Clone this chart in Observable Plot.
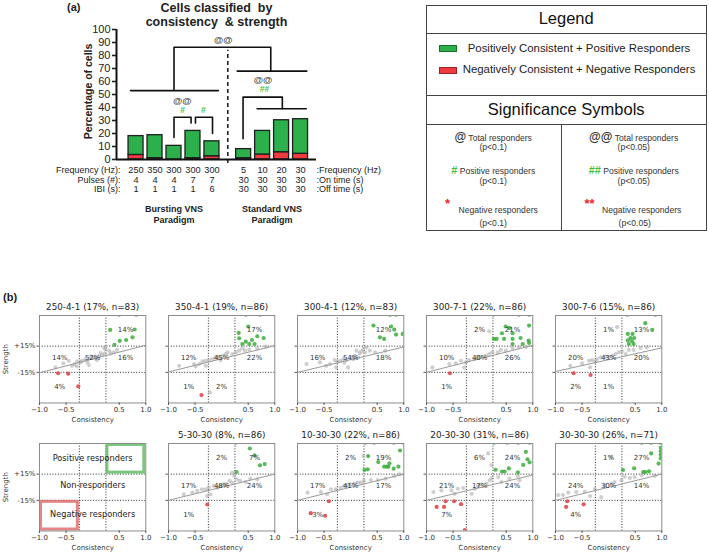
<!DOCTYPE html>
<html><head><meta charset="utf-8">
<script src="https://cdn.jsdelivr.net/npm/d3@7"></script>
<script src="https://cdn.jsdelivr.net/npm/@observablehq/plot@0.6"></script>
<style>
body{margin:0;background:#fff;}
#root{position:relative;width:709px;height:552px;overflow:hidden;background:#fff;font-family:"Liberation Sans",Arial,sans-serif;color:#222;}
#root svg{position:absolute;}
.t{position:absolute;white-space:nowrap;}
</style></head><body><div id="root"></div>
<script>
// ---------------- Panel (a) data ----------------
const freq      = ["250","350","300","300","300","5","10","20","30"];
const pulsesOn  = ["4","4","4","7","7","30","30","30","30"];
const ibiOff    = ["1","1","1","1","6","30","30","30","30"];
const paradigm  = ["Bursting","Bursting","Bursting","Bursting","Bursting","Standard","Standard","Standard","Standard"];
const totalPct  = [18, 18.7, 10.5, 22, 14, 8, 22, 30.2, 31];
const negPct    = [3.5, 1, 0, 1, 2.5, 1, 3.8, 5.6, 4.4];
const leftRowLabels  = ["Frequency (Hz):", "Pulses (#):", "IBI (s):"];
const rightRowLabels = [":Frequency (Hz)", ":On time (s)", ":Off time (s)"];
const groupLabels = {Bursting: "Bursting VNS\nParadigm", Standard: "Standard VNS\nParadigm"};
const yTicksA = d3.range(0, 101, 10);
// significance brackets in (bar position, percent) units
const bracketIds  = ["bursting","between","standard","b3vs4","b4vs5","s5vsRest","sRest"];
const bracketPts  = [
  [[-0.29,53],[4.34,53]],
  [[2,53],[2,86.4],[7.1,86.4],[7.1,68]],
  [[5.33,68],[9.0,68]],
  [[2,17],[2,32.5],[2.9,32.5],[2.9,28]],
  [[3.13,28],[3.13,32.5],[4.03,32.5],[4.03,20]],
  [[5.64,16],[5.64,48],[7.71,48],[7.71,39]],
  [[6.38,39],[8.97,39]]
];
const sigText = ["@@","@@","#","#","@@","##"];
const sigKind = ["total","total","pos","pos","total","pos"];
const sigPos  = [[4.6,92],[2.43,45],[2.45,38],[3.55,38],[6.69,61],[6.77,54]];

// ---------------- Legend data ----------------
const legendLabels = ["Positively Consistent + Positive Responders","Negatively Consistent + Negative Responders"];
const sigNames = ["Total responders","Positive responders","Negative responders"];
const sigSymLeft = ["@","#","*"], sigSymRight = ["@@","##","**"];
const pLeft = "(p<0.1)", pRight = "(p<0.05)";

// ---------------- Panel (b) data ----------------
const panelTitles = ["250-4-1 (17%, n=83)","350-4-1 (19%, n=86)","300-4-1 (12%, n=83)","300-7-1 (22%, n=86)","300-7-6 (15%, n=86)",
                     "5-30-30 (8%, n=86)","10-30-30 (22%, n=86)","20-30-30 (31%, n=86)","30-30-30 (26%, n=71)"];
const s250_4_1 = [[0.50,51],[0.82,51],[0.33,33.5],[0.79,34],[0.75,25],[0.63,22],[0.51,21],[0.41,16.5],
  [-0.65,-16],[-0.46,-16.5],[-0.27,-31],
  [-0.70,-9.4],[-0.55,-4.8],[-0.45,-1.7],[-0.39,-7.5],[-0.34,-5.5],[-0.30,-8],[-0.29,-2.5],[-0.23,-3.6],[-0.20,-1.7],[-0.14,0.2],[-0.10,-3],[-0.07,-6.7],[-0.04,2.1],[0.02,2.9],[0.05,1.0],[0.08,-1],[0.12,3.3],[0.15,7],[0.18,4.8],[0.22,13],[0.23,6.7],[0.24,11.7],[0.31,9.8],[0.34,6.7],[0.40,7.9],[0.46,10.6]];
const s350_4_1 = [[0.455,51],[0.72,51],[0.50,37.4],[0.32,30.1],[0.67,26.3],[0.79,24.3],[0.33,24.0],[0.57,22.0],[0.455,20.1],[0.39,17.4],[0.52,17.4],[0.62,17.4],
  [-0.38,-41],
  [-0.22,-38],
  [-0.80,-7.5],[-0.52,-5.5],[-0.49,-8.2],[-0.42,-5.5],[-0.36,-2.5],[-0.30,-1.7],[-0.30,-7.5],[-0.24,-0.9],[-0.17,0.2],[-0.11,2.1],[-0.06,2.1],[-0.02,-0.9],[0.02,4.0],[0.08,6.0],[0.11,7.9],[0.20,6.0],[0.27,7.9],[0.33,9.8],[0.39,12.5],[0.44,9.8],[0.52,10.9],[0.67,12.5],[0.83,14.4]];
const s300_4_1 = [[0.43,38.5],[0.74,51],[0.85,51],[0.76,37.4],[0.82,33.9],[0.855,28.2],[0.98,28.9],[0.55,25.1],[0.63,23.2],
  [-0.83,-5.5],[-0.58,-3.6],[-0.46,-7.5],[-0.39,-5.5],[-0.30,-0.9],[-0.27,-9.4],[-0.25,-3],[-0.20,-1.7],[-0.14,0.2],[-0.12,-4],[-0.08,-0.9],[-0.05,-9.4],[0.02,2.1],[0.05,0],[0.08,4.0],[0.11,9.8],[0.14,2.1],[0.17,6.7],[0.20,9],[0.24,11.7],[0.27,7.9],[0.30,13.6],[0.36,9.8],[0.46,7.9],[0.65,9.8]];
const s300_7_1 = [[0.26,51],[0.74,51],[0.93,51],[0.49,37.4],[0.56,35.8],[0.42,29.7],[0.62,29.7],[0.93,38.5],[0.27,23.2],[0.32,23.2],[0.46,23.2],[0.62,23.2],[0.77,24.3],[0.81,17.4],[0.92,21.3],[0.93,18.6],[0.62,17.4],
  [-0.56,-16],
  [0.18,32],
  [-0.89,-9.4],[-0.57,-5.5],[-0.45,-4.8],[-0.35,-1.7],[-0.29,-9.4],[-0.26,-3.6],[-0.20,-0.9],[-0.10,0.2],[-0.04,2.1],[0.02,2.9],[0.12,4.0],[0.18,6.0],[0.24,7.9],[0.34,7.9],[0.40,10.6],[0.49,9.8],[0.62,12.9],[0.74,13.6],[0.87,14]];
const s300_7_6 = [[0.35,51],[0.88,51],[0.69,41.2],[0.82,33.5],[0.36,28.9],[0.45,28.9],[0.41,24.3],[0.48,24.3],[0.36,21.5],[0.44,20.5],[0.38,17.4],[0.47,17.4],
  [-0.66,-16],[-0.34,-18],
  [0.16,36.6],
  [-0.72,-7.5],[-0.50,-4.8],[-0.37,-1.7],[-0.35,-9.4],[-0.31,-0.9],[-0.25,-2.5],[-0.22,0.2],[-0.15,2.1],[-0.06,2.9],[0.0,2.9],[0.07,4.0],[0.13,6.0],[0.19,7.9],[0.25,9.0],[0.32,6.0],[0.38,10.6],[0.47,10.6],[0.60,12.9],[0.72,13.6]];
const s5_30_30 = [[0.26,51],[0.53,44.3],[0.62,36.4],[0.72,25.0],[0.81,26.5],[0.28,17.4],
  [-0.27,-19.7],
  [0.20,16.6],
  [-0.71,-8],[-0.55,-6],[-0.46,-4.2],[-0.37,-2.3],[-0.30,-2.3],[-0.27,-9.9],[-0.24,-0.4],[-0.21,-8],[-0.15,1.5],[-0.08,-0.4],[-0.02,1.5],[0.04,3.4],[0.10,3.4],[0.15,7.2],[0.20,5],[0.24,12.9],[0.29,9.1],[0.35,7.2],[0.45,6.0],[0.54,9.8],[0.67,9.1]];
const s10_30_30 = [[0.27,51],[0.44,51],[0.81,51],[0.99,51],[0.93,42],[0.33,35.6],[0.52,28.8],[0.73,27.3],[0.26,19.7],[0.32,20.5],[0.63,23.5],[0.68,23.5],[0.71,23.5],[0.81,21.2],[0.90,23.5],
  [-0.75,-29.6],[-0.48,-32.6],[-0.41,-16],
  [0.24,35.6],
  [-0.81,-6.1],[-0.56,-5.3],[-0.44,-8],[-0.37,-2.3],[-0.28,-2.3],[-0.19,-0.4],[-0.12,1.5],[-0.06,2.3],[0.0,3.4],[0.07,4.1],[0.13,5.3],[0.19,5.3],[0.25,7.2],[0.38,8.3],[0.51,8.3],[0.66,9.8],[0.82,12.9],[0.92,14.8]];
const s20_30_30 = [[0.27,51],[0.52,51],[0.72,51],[0.94,51],[0.87,40.5],[0.90,32],[0.94,28.5],[0.82,25.5],[0.55,21.5],[0.42,18],[0.47,18],[0.72,17],[0.30,20],
  [-0.64,-16],[-0.48,-16],[-0.81,-22.5],[-0.67,-22.5],[-0.35,-19.4],[-0.28,-49],
  [0.16,38.6],[0.22,25.3],[-0.87,-5.5],[-0.72,-3.6],[-0.53,-3.6],[-0.47,-7.5],[-0.41,-1.7],[-0.31,-0.9],[-0.15,-7.5],[-0.09,-1.7],[-0.03,2.1],[0.03,2.9],[0.13,4.0],[0.19,7.9],[0.23,10.6],[0.35,11.7],[0.41,6.0],[0.56,9.8],[0.72,12.9],[0.75,8.0]];
const s30_30_30 = [[0.98,51],[0.98,45],[0.98,41],[0.98,37],[0.98,33],[0.94,27],[0.80,38.6],[0.62,51],[0.80,51],[0.48,21.6],[0.65,17.4],[0.69,17.4],[0.76,18.2],[0.27,19.7],
  [-0.78,-16],[-0.80,-22.5],[-0.47,-19.5],
  [0.05,34.8],[-0.95,-9],[-0.86,-9],[-0.76,-6],[-0.61,-5.5],[-0.45,-5],[-0.35,-10],[-0.26,-2],[-0.14,-11.3],[-0.07,2],[0.05,4],[0.11,6],[0.24,8],[0.30,12],[0.40,10.6],[0.49,11.7],[0.62,13.6],[0.87,12.9]];
const panelPoints = [s250_4_1,s350_4_1,s300_4_1,s300_7_1,s300_7_6,s5_30_30,s10_30_30,s20_30_30,s30_30_30];
// quadrant percentage labels: code = row (T/M/B) + column (L/M/R)
const q250_4_1 = [["TR","14%"],["ML","14%"],["MM","52%"],["MR","16%"],["BL","4%"]];
const q350_4_1 = [["TR","17%"],["ML","12%"],["MM","45%"],["MR","22%"],["BL","1%"],["BM","2%"]];
const q300_4_1 = [["TR","12%"],["ML","16%"],["MM","54%"],["MR","18%"]];
const q300_7_1 = [["TM","2%"],["TR","21%"],["ML","10%"],["MM","40%"],["MR","26%"],["BL","1%"]];
const q300_7_6 = [["TM","1%"],["TR","13%"],["ML","20%"],["MM","43%"],["MR","20%"],["BL","2%"],["BM","1%"]];
const q5_30_30 = [["TM","2%"],["TR","7%"],["ML","17%"],["MM","48%"],["MR","24%"],["BL","1%"]];
const q10_30_30 = [["TM","2%"],["TR","19%"],["ML","17%"],["MM","41%"],["MR","17%"],["BL","3%"]];
const q20_30_30 = [["TM","6%"],["TR","24%"],["ML","21%"],["MM","17%"],["MR","24%"],["BL","7%"]];
const q30_30_30 = [["TM","1%"],["TR","27%"],["ML","24%"],["MM","30%"],["MR","14%"],["BL","4%"]];
const panelLabels = [q250_4_1,q350_4_1,q300_4_1,q300_7_1,q300_7_6,q5_30_30,q10_30_30,q20_30_30,q30_30_30];
// fitted trend line: strength at consistency -1 and +1
const fitLeft  = [-15.5,-14.5,-15,-15,-14,-15,-15,-15,-15];
const fitRight = [16, 15.5, 14, 16, 13, 15, 15, 14, 15];
const explainTexts = [["TM","Positive responders"],["MM","Non-responders"],["BM","Negative responders"]];
const xTicksS = [-1, -0.5, 0.5, 1];
const thresholdX = [-0.25, 0.25], thresholdY = [-15, 15];
const xDomainS = [-1, 1], yDomainS = [-50, 50];

// ---------------- helpers ----------------
const root = document.getElementById("root");
function put(node, left, top) { node.style.left = left + "px"; node.style.top = top + "px"; root.appendChild(node); return node; }
function div(text, css) { const d = document.createElement("div"); d.className = "t"; d.innerHTML = text; Object.assign(d.style, css); root.appendChild(d); return d; }

// ---------------- Panel (a) ----------------
const groupGap = 0.67;
const bars = freq.map((f, i) => ({p: i + (paradigm[i] === "Standard" ? groupGap : 0), f, on: pulsesOn[i], off: ibiOff[i], total: totalPct[i], neg: negPct[i], g: paradigm[i]}));
const xDomA = [-1.03, 9.51];
const divider = (bars[4].p + bars[5].p) / 2;
const groups = Object.keys(groupLabels).map(g => ({g, p: d3.mean(bars.filter(b => b.g === g), b => b.p), label: groupLabels[g]}));
const brackets = bracketPts.flatMap((pts, k) => pts.map(([p, v]) => ({id: bracketIds[k], p, v})));
const sigs = sigText.map((t, i) => ({t, kind: sigKind[i], p: sigPos[i][0], v: sigPos[i][1]}));
const hw = 0.395;
const rowDy = [11, 20.5, 29.5];
const chartA = Plot.plot({
  width: 360, height: 232, marginLeft: 116, marginRight: 44, marginTop: 29, marginBottom: 73,
  x: {domain: xDomA, axis: null}, y: {domain: [0, 100], axis: null},
  style: {fontFamily: "Liberation Sans, Arial, sans-serif", background: "transparent", overflow: "visible", color: "#222"},
  marks: [
    Plot.rect(bars.filter(d => d.neg > 0), {x1: d => d.p - hw, x2: d => d.p + hw, y1: () => 0, y2: "neg", fill: "#ee3b3f", stroke: "#1f1f1f", strokeWidth: 1.3}),
    Plot.rect(bars, {x1: d => d.p - hw, x2: d => d.p + hw, y1: "neg", y2: "total", fill: "#2bb04b", stroke: "#1f1f1f", strokeWidth: 1.3}),
    Plot.ruleX([divider], {y1: -3, y2: 84, stroke: "#222", strokeWidth: 1.6, strokeDasharray: "4,3"}),
    Plot.line(brackets, {x: "p", y: "v", z: "id", stroke: "#111", strokeWidth: 1.6}),
    Plot.text(sigs.filter(d => d.kind === "total"), {x: "p", y: "v", text: "t", fontSize: 9.5, fontWeight: "bold", fill: "#555"}),
    Plot.text(sigs.filter(d => d.kind === "pos"), {x: "p", y: "v", text: "t", fontSize: 8.5, fontWeight: "bold", fill: "#47c24f"}),
    Plot.axisY({ticks: yTicksA, tickSize: 4, tickPadding: 2, fontSize: 11, label: null, strokeWidth: 1.6}),
    Plot.ruleX([xDomA[0]], {strokeWidth: 2, stroke: "#111"}),
    Plot.ruleY([0], {strokeWidth: 2, stroke: "#111"}),
    Plot.text(["Percentage of cells"], {frameAnchor: "left", textAnchor: "middle", lineAnchor: "middle", dx: -28, dy: -3, rotate: -90, fontSize: 10.5, fontWeight: "bold"}),
    Plot.text(["Cells classified  by\nconsistency  & strength"], {frameAnchor: "top", lineAnchor: "top", dy: -27, fontSize: 12.5, fontWeight: "bold", lineHeight: 1.12}),
    Plot.text(bars, {x: "p", text: "f", frameAnchor: "bottom", lineAnchor: "middle", dy: rowDy[0], fontSize: 9.2}),
    Plot.text(bars, {x: "p", text: "on", frameAnchor: "bottom", lineAnchor: "middle", dy: rowDy[1], fontSize: 9.2}),
    Plot.text(bars, {x: "p", text: "off", frameAnchor: "bottom", lineAnchor: "middle", dy: rowDy[2], fontSize: 9.2}),
    ...leftRowLabels.map((t, i) => Plot.text([t], {frameAnchor: "bottom-left", textAnchor: "end", lineAnchor: "middle", dx: 4, dy: rowDy[i], fontSize: 9})),
    ...rightRowLabels.map((t, i) => Plot.text([t], {frameAnchor: "bottom-right", textAnchor: "start", lineAnchor: "middle", dy: rowDy[i], fontSize: 9})),
    Plot.text(groups, {x: "p", text: "label", frameAnchor: "bottom", lineAnchor: "top", dy: 45, fontSize: 9, fontWeight: "bold", lineHeight: 1.2})
  ]
});
put(chartA, 0, 0);
div("(a)", {left: "67px", top: "1px", fontWeight: "bold", fontSize: "11px"});
div("(b)", {left: "3px", top: "291px", fontWeight: "bold", fontSize: "11px"});

// ---------------- Legend box ----------------
const LB = {l: 425.7, t: 5, r: 706.7, b: 230.7};
const box = document.createElement("div");
Object.assign(box.style, {position: "absolute", left: LB.l + "px", top: LB.t + "px", width: (LB.r - LB.l) + "px", height: (LB.b - LB.t) + "px", border: "1px solid #444", boxSizing: "border-box"});
root.appendChild(box);
[33.3, 95, 124.3].forEach(y => div("", {left: LB.l + "px", top: y + "px", width: (LB.r - LB.l) + "px", height: "0", borderTop: "1px solid #444"}));
div("", {left: "560.7px", top: "124.3px", width: "0", height: (LB.b - 124.3) + "px", borderLeft: "1px solid #444"});
div("Legend", {left: LB.l + "px", width: (LB.r - LB.l) + "px", textAlign: "center", top: "9px", fontSize: "16.5px", color: "#111"});
div("Significance Symbols", {left: LB.l + "px", width: (LB.r - LB.l) + "px", textAlign: "center", top: "100px", fontSize: "16.5px", color: "#111"});
const swFill = ["#2bb04b", "#ee3b3f"], swStroke = ["#1c6e30", "#9b2226"];
legendLabels.forEach((lab, i) => {
  const y = [45, 66.5][i];
  div("", {left: "439px", top: y + "px", width: "18px", height: "7px", background: swFill[i], border: "1.3px solid " + swStroke[i], boxSizing: "border-box"});
  div(lab, {left: "459px", width: "240px", textAlign: "center", top: (y - 3.5) + "px", fontSize: "11.4px", color: "#222"});
});
const colCenter = [493.2, 633.7];
const rowY = [129.5, 163.5];
[0, 1].forEach(c => {
  const syms = c === 0 ? sigSymLeft : sigSymRight;
  const pv = c === 0 ? pLeft : pRight;
  [0, 1].forEach(r => {
    const col = r === 1 ? "#3fbf3f" : "#333";
    div(`<span style="color:${col};font-size:${r===1?11:12}px;font-weight:bold">${syms[r]}</span> ${sigNames[r]}`, {left: (colCenter[c] - 70) + "px", width: "140px", textAlign: "center", top: rowY[r] + "px", fontSize: "8.6px", color: "#333"});
    div(pv, {left: (colCenter[c] - 70) + "px", width: "140px", textAlign: "center", top: (rowY[r] + 12) + "px", fontSize: "8.6px", color: "#333"});
  });
  div(syms[2], {left: (c === 0 ? 445 : 584.5) + "px", top: "196px", fontSize: "13px", color: "#e8262b", fontWeight: "bold"});
  div(sigNames[2], {left: (colCenter[c] + (c === 0 ? 5 : 8) - 70) + "px", width: "140px", textAlign: "center", top: "204.5px", fontSize: "8.6px", color: "#333"});
  div(pv, {left: (colCenter[c] + (c === 0 ? 0 : 1) - 70) + "px", width: "140px", textAlign: "center", top: "217.5px", fontSize: "8.6px", color: "#333"});
});

// ---------------- Panel (b) small multiples ----------------
const panelW = 106.3, panelH = 87.5;
const mL = 38, mR = 8, mT = 16, mB = 24;
const colLefts = [39.3, 167.7, 296.5, 426, 555];
const rowTops = [315, 442.5];
const qx = {L: -0.62, M: 0, R: 0.62}, qy = {T: 33.5, M: 2, B: -31};
const classify = (x, y) => x > thresholdX[1] && y > thresholdY[1] ? "pos" : (x < thresholdX[0] && y < thresholdY[0] ? "neg" : "non");
const dotted = {stroke: "#2a2a2a", strokeWidth: 1, strokeDasharray: "1,1.7"};

function scatter({title, pts, labels, fitL, fitR, firstCol, explain}) {
  const marks = [Plot.ruleX(thresholdX, dotted), Plot.ruleY(thresholdY, dotted)];
  if (explain) {
    marks.push(Plot.rect([0], {x1: () => thresholdX[1], x2: () => xDomainS[1], y1: () => thresholdY[1], y2: () => yDomainS[1], fill: "none", stroke: "#5cb85c", strokeOpacity: 0.8, strokeWidth: 3, inset: 1.5}));
    marks.push(Plot.rect([0], {x1: () => xDomainS[0], x2: () => thresholdX[0], y1: () => yDomainS[0], y2: () => thresholdY[0], fill: "none", stroke: "#e06666", strokeOpacity: 0.8, strokeWidth: 3, inset: 1.5}));
    marks.push(Plot.text(explainTexts, {x: d => qx[d[0][1]], y: d => qy[d[0][0]], text: d => d[1], fontSize: 8.2, fill: "#222"}));
  } else {
    const dots = pts.map(([x, y]) => ({x, y, cls: classify(x, y)}));
    marks.push(Plot.dot(dots.filter(d => d.cls === "non"), {x: "x", y: "y", r: 2.1, fill: "#a8a8a8", fillOpacity: 0.55, clip: true}));
    marks.push(Plot.line([{x: xDomainS[0], y: fitL}, {x: xDomainS[1], y: fitR}], {x: "x", y: "y", stroke: "#9a9a9a", strokeWidth: 1}));
    marks.push(Plot.dot(dots.filter(d => d.cls === "pos"), {x: "x", y: "y", r: 2.1, fill: "#3aad3a", fillOpacity: 0.85, clip: true}));
    marks.push(Plot.dot(dots.filter(d => d.cls === "neg"), {x: "x", y: "y", r: 2.1, fill: "#e0484b", fillOpacity: 0.9, clip: true}));
    marks.push(Plot.text(labels, {x: d => qx[d[0][1]], y: d => qy[d[0][0]], text: d => d[1], fontSize: 7, fill: "#333"}));
    marks.push(Plot.text([title], {frameAnchor: "top", lineAnchor: "middle", dy: -8, fontSize: 8.8, fill: "#222"}));
  }
  marks.push(Plot.frame({stroke: "#8c8c8c"}));
  marks.push(Plot.axisX({ticks: xTicksS, tickSize: 2.5, tickPadding: 1.5, fontSize: 7, tickFormat: d3.format(".1f"), label: null, stroke: "#555", fill: "#333"}));
  marks.push(Plot.axisY({ticks: thresholdY, tickSize: 2.5, tickPadding: 1.5, fontSize: 7, tickFormat: firstCol ? (d => (d > 0 ? "+" : "-") + Math.abs(d) + "%") : () => "", label: null, stroke: "#555", fill: "#333"}));
  marks.push(Plot.text(["Consistency"], {frameAnchor: "bottom", lineAnchor: "middle", dy: 17, fontSize: 7, fill: "#333"}));
  if (firstCol) marks.push(Plot.text(["Strength"], {frameAnchor: "left", textAnchor: "middle", lineAnchor: "middle", dx: -34, rotate: -90, fontSize: 7, fill: "#333"}));
  return Plot.plot({
    width: panelW + mL + mR, height: panelH + mT + mB, marginLeft: mL, marginRight: mR, marginTop: mT, marginBottom: mB,
    x: {domain: xDomainS, axis: null}, y: {domain: yDomainS, axis: null},
    style: {fontFamily: "DejaVu Sans, sans-serif", background: "transparent", overflow: "visible", color: "#333"},
    marks
  });
}
// row 1: five panels; row 2: explanation panel + four panels
const layout = [[0,0],[0,1],[0,2],[0,3],[0,4],[1,1],[1,2],[1,3],[1,4]];
panelTitles.forEach((title, i) => {
  const [r, c] = layout[i];
  const svg = scatter({title, pts: panelPoints[i], labels: panelLabels[i], fitL: fitLeft[i], fitR: fitRight[i], firstCol: c === 0});
  put(svg, colLefts[c] - mL, rowTops[r] - mT);
});
put(scatter({explain: true, firstCol: true}), colLefts[0] - mL, rowTops[1] - mT);
</script></body></html>
